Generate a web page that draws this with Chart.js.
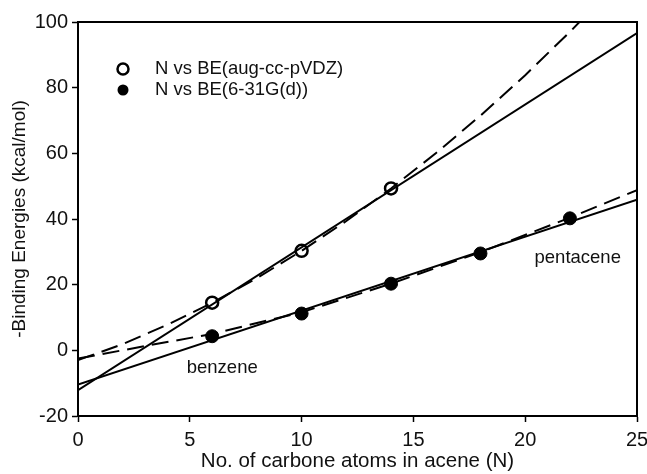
<!DOCTYPE html>
<html>
<head>
<meta charset="utf-8">
<script src="https://cdn.jsdelivr.net/npm/chart.js@4.4.0/dist/chart.umd.min.js"></script>
<style>
  html, body { margin: 0; padding: 0; background: #fff; }
  #wrap { width: 647px; height: 474px; }
</style>
</head>
<body>
<div id="wrap"><canvas id="myChart"></canvas></div>
<script>
// measured points
const augN = [6, 10, 14]
const augBE = [14.5, 30.3, 49.3]
const smallN = [6, 10, 14, 18, 22]
const smallBE = [4.3, 11.2, 20.3, 29.5, 40.2]

// fitted lines
const augLinX = [0, 25]
const augLinY = [-12.1, 96.6]
const augQuadX = [0, 2, 4, 6, 8, 10, 12, 14, 16, 18, 20, 22, 23]
const augQuadY = [-3, 1.9, 7.8, 14.5, 22, 30.3, 39.4, 49.3, 60, 71.5, 83.8, 97, 104]
const smallLinX = [0, 25]
const smallLinY = [-10.4, 45.9]
const smallQuadX = [0, 3, 6, 10, 14, 18, 22, 25]
const smallQuadY = [-2.5, 1.3, 5.0, 11.6, 20.3, 29.9, 40.4, 48.8]

const xTicks = [0, 5, 10, 15, 20, 25]
const yTicks = [-20, 0, 20, 40, 60, 80, 100]

const legendItems = [
    {text: 'N vs BE(aug-cc-pVDZ)', filled: false},
    {text: 'N vs BE(6-31G(d))', filled: true}
]
const notes = [
    {text: 'benzene', x: 6.45, y: -5.3},
    {text: 'pentacene', x: 22.35, y: 28}
]

const FONT = '"Liberation Sans", Arial, sans-serif'

const pts = (xs, ys) => xs.map((x, i) => ({x: x, y: ys[i]}))

const lineSet = (xs, ys, dashed) => ({
    data: pts(xs, ys),
    showLine: true,
    borderColor: '#000',
    borderWidth: 2,
    borderDash: dashed ? [17, 8] : [],
    pointRadius: 0,
    pointHoverRadius: 0,
    fill: false
})

// frame, legend and little text labels
const extras = {
    id: 'extras',
    afterDraw(chart) {
        const ctx = chart.ctx
        const a = chart.chartArea
        const xs = chart.scales.x
        const ys = chart.scales.y
        ctx.save()
        ctx.strokeStyle = '#000'
        ctx.lineWidth = 2
        ctx.strokeRect(a.left, a.top, a.right - a.left, a.bottom - a.top)

        ctx.font = '18.5px ' + FONT
        ctx.fillStyle = '#111'
        ctx.textBaseline = 'middle'
        legendItems.forEach((item, i) => {
            const cy = 69 + i * 21
            ctx.beginPath()
            ctx.arc(123, cy, 5.5, 0, Math.PI * 2)
            if (item.filled) {
                ctx.fillStyle = '#000'
                ctx.fill()
            } else {
                ctx.fillStyle = '#fff'
                ctx.fill()
                ctx.lineWidth = 2.5
                ctx.stroke()
            }
            ctx.fillStyle = '#111'
            ctx.textAlign = 'left'
            ctx.fillText(item.text, 155, cy)
        })

        ctx.textAlign = 'center'
        notes.forEach(n => {
            ctx.fillText(n.text, xs.getPixelForValue(n.x), ys.getPixelForValue(n.y))
        })
        ctx.restore()
    }
}

new Chart(document.getElementById('myChart'), {
    type: 'scatter',
    data: {
        datasets: [
            lineSet(augLinX, augLinY, false),
            lineSet(augQuadX, augQuadY, true),
            lineSet(smallLinX, smallLinY, false),
            lineSet(smallQuadX, smallQuadY, true),
            {
                data: pts(augN, augBE),
                pointRadius: 6,
                pointBackgroundColor: '#fff',
                pointBorderColor: '#000',
                pointBorderWidth: 2.5,
                showLine: false
            },
            {
                data: pts(smallN, smallBE),
                pointRadius: 6.5,
                pointBackgroundColor: '#000',
                pointBorderColor: '#000',
                pointBorderWidth: 1,
                showLine: false
            }
        ]
    },
    options: {
        responsive: true,
        maintainAspectRatio: false,
        animation: false,
        layout: {padding: {top: 22, right: 10, left: 0, bottom: 0}},
        plugins: {
            legend: {display: false},
            tooltip: {enabled: false}
        },
        scales: {
            x: {
                type: 'linear',
                min: 0,
                max: 25,
                afterBuildTicks: s => { s.ticks = xTicks.map(v => ({value: v})) },
                afterFit: s => { s.height = 58; s.paddingLeft = 0; s.paddingRight = 0 },
                grid: {drawOnChartArea: false, tickLength: 6, tickColor: '#000', tickWidth: 1.5},
                border: {color: '#000', width: 2},
                ticks: {color: '#111', font: {size: 20, family: FONT}, padding: 6, maxRotation: 0},
                title: {
                    display: true,
                    text: 'No. of carbone atoms in acene (N)',
                    color: '#111',
                    font: {size: 20.5, family: FONT},
                    padding: {top: 0, bottom: 0}
                }
            },
            y: {
                type: 'linear',
                min: -20,
                max: 100,
                afterBuildTicks: s => { s.ticks = yTicks.map(v => ({value: v})) },
                afterFit: s => { s.width = 78; s.paddingTop = 0; s.paddingBottom = 0 },
                grid: {drawOnChartArea: false, tickLength: 6, tickColor: '#000', tickWidth: 1.5},
                border: {color: '#000', width: 2},
                ticks: {color: '#111', font: {size: 20, family: FONT}, padding: 4},
                title: {
                    display: true,
                    text: '-Binding Energies (kcal/mol)',
                    color: '#111',
                    font: {size: 19, family: FONT},
                    padding: {top: 8, bottom: 0}
                }
            }
        }
    },
    plugins: [extras]
})
</script>
</body>
</html>
